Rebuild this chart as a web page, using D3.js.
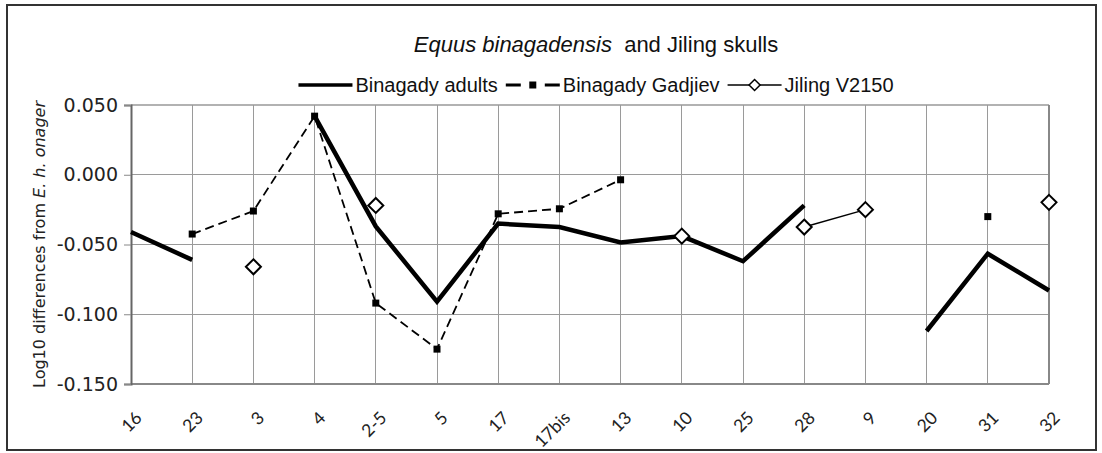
<!DOCTYPE html>
<html>
<head>
<meta charset="utf-8">
<script src="https://cdn.jsdelivr.net/npm/d3@7"></script>
<style>
  body { margin: 0; background: #fff; }
  svg { display: block; }
  .grid line { stroke: #9a9a9a; stroke-width: 1; shape-rendering: crispEdges; }
</style>
</head>
<body>
<svg id="chart" width="1102" height="453"></svg>
<script>
// categories (skull measurement numbers)
const categories = ["16", "23", "3", "4", "2-5", "5", "17", "17bis", "13", "10", "25", "28", "9", "20", "31", "32"];

// series values, null = no value
const adults   = [-0.041, -0.061, null, 0.042, -0.037, -0.091, -0.035, -0.0375, -0.0485, -0.044, -0.062, -0.022, null, -0.112, -0.0566, -0.083];
const gadjiev  = [null, -0.0425, -0.026, 0.042, -0.092, -0.125, -0.028, -0.0244, -0.0036, null, null, null, null, null, -0.030, null];
const jiling   = [null, null, -0.066, null, -0.022, null, null, null, null, -0.044, null, -0.0375, -0.025, null, null, -0.0198];

const yTicks = [0.05, 0, -0.05, -0.1, -0.15];

const margin = { left: 131, right: 53, top: 105, bottom: 69 };
const W = 1102, H = 453;
const width = W - margin.left - margin.right;
const height = H - margin.top - margin.bottom;

const svg = d3.select("#chart");

// outer frame
svg.append("rect")
    .attr("x", 7).attr("y", 5)
    .attr("width", 1089).attr("height", 445)
    .attr("fill", "none")
    .attr("stroke", "#333")
    .attr("stroke-width", 2);

const g = svg.append("g")
    .attr("transform", `translate(${margin.left},${margin.top})`);

const x = d3.scalePoint().domain(categories).range([0, width]).padding(0);
const y = d3.scaleLinear().domain([-0.15, 0.05]).range([height, 0]);

// vertical grid
g.append("g")
    .attr("class", "grid")
    .selectAll("line")
    .data(categories.slice(1, -1))
    .join("line")
    .attr("x1", d => x(d)).attr("x2", d => x(d))
    .attr("y1", 0).attr("y2", height);

// horizontal grid
g.append("g")
    .attr("class", "grid")
    .selectAll("line")
    .data(yTicks.slice(1, -1))
    .join("line")
    .attr("x1", 0).attr("x2", width)
    .attr("y1", d => y(d)).attr("y2", d => y(d));

// plot frame
g.append("line").attr("x1", 0).attr("x2", width).attr("y1", 0).attr("y2", 0)
    .attr("stroke", "#999").attr("stroke-width", 1.5);
g.append("line").attr("x1", width).attr("x2", width).attr("y1", 0).attr("y2", height)
    .attr("stroke", "#888").attr("stroke-width", 2);
g.append("line").attr("x1", 0).attr("x2", width).attr("y1", height).attr("y2", height)
    .attr("stroke", "#888").attr("stroke-width", 2);

// y axis
const yAxis = g.append("g")
    .call(d3.axisLeft(y).tickValues(yTicks).tickSize(7).tickPadding(6)
        .tickFormat(d => d3.format(".3f")(d).replace("−", "-")));
yAxis.select(".domain").attr("stroke", "#666").attr("stroke-width", 2);
yAxis.selectAll(".tick line").attr("stroke", "#888");
yAxis.selectAll("text")
    .attr("font-family", "DejaVu Sans, Verdana, sans-serif")
    .attr("font-size", "19px")
    .attr("fill", "#222");

// x labels, rotated
g.append("g")
    .selectAll("text")
    .data(categories)
    .join("text")
    .attr("transform", d => `translate(${x(d) + 12},${height + 35}) rotate(-45)`)
    .attr("text-anchor", "end")
    .attr("font-family", "Lato, 'Open Sans', sans-serif")
    .attr("font-size", "17.5px")
    .attr("fill", "#222")
    .text(d => d);

// y axis title
const yTitle = svg.append("text")
    .attr("transform", `translate(45,${margin.top + height / 2}) rotate(-90)`)
    .attr("text-anchor", "middle")
    .attr("font-family", "DejaVu Sans, Verdana, sans-serif")
    .attr("font-size", "16px")
    .attr("fill", "#222");
yTitle.append("tspan").text("Log10 differences from ");
yTitle.append("tspan").attr("font-style", "italic").text("E. h. onager");

// series
const line = d3.line()
    .defined(d => d.v != null)
    .x(d => x(d.c))
    .y(d => y(d.v));

const toPts = arr => categories.map((c, i) => ({ c, v: arr[i] }));

g.append("path")
    .datum(toPts(adults))
    .attr("fill", "none")
    .attr("stroke", "#000")
    .attr("stroke-width", 4.5)
    .attr("stroke-linejoin", "miter")
    .attr("d", line);

g.append("path")
    .datum(toPts(gadjiev))
    .attr("fill", "none")
    .attr("stroke", "#000")
    .attr("stroke-width", 1.8)
    .attr("stroke-dasharray", "9,5")
    .attr("d", line);

g.append("g")
    .selectAll("rect")
    .data(toPts(gadjiev).filter(d => d.v != null))
    .join("rect")
    .attr("x", d => x(d.c) - 3.5)
    .attr("y", d => y(d.v) - 3.5)
    .attr("width", 7).attr("height", 7)
    .attr("fill", "#000");

g.append("path")
    .datum(toPts(jiling))
    .attr("fill", "none")
    .attr("stroke", "#000")
    .attr("stroke-width", 1.5)
    .attr("d", line);

const diamond = r => `M0,${-r}L${r},0L0,${r}L${-r},0Z`;

g.append("g")
    .selectAll("path")
    .data(toPts(jiling).filter(d => d.v != null))
    .join("path")
    .attr("transform", d => `translate(${x(d.c)},${y(d.v)})`)
    .attr("d", diamond(7.5))
    .attr("fill", "#fff")
    .attr("stroke", "#000")
    .attr("stroke-width", 2);

// title
const title = svg.append("text")
    .attr("x", 596).attr("y", 52)
    .attr("text-anchor", "middle")
    .attr("font-family", "Liberation Sans, Arial, sans-serif")
    .attr("font-size", "22px")
    .attr("fill", "#111");
title.append("tspan").attr("font-style", "italic").text("Equus binagadensis");
title.append("tspan").text("\u00a0 and Jiling skulls");

// legend
const legend = svg.append("g").attr("font-family", "Liberation Sans, Arial, sans-serif")
    .attr("font-size", "20px").attr("fill", "#111");
const legY = 85;
const items = [
    { name: "Binagady adults", kind: "solid" },
    { name: "Binagady Gadjiev", kind: "dash" },
    { name: "Jiling V2150", kind: "diamond" }
];
const symW = 54, gapAfterSym = 3, gapAfterText = 8;
let cx = 0;
const legendG = legend.append("g");
items.forEach(it => {
    const sg = legendG.append("g").attr("transform", `translate(${cx},0)`);
    if (it.kind === "solid") {
        sg.append("line").attr("x1", 0).attr("x2", symW).attr("y1", 0).attr("y2", 0)
            .attr("stroke", "#000").attr("stroke-width", 3.5);
    } else if (it.kind === "dash") {
        sg.append("line").attr("x1", 0).attr("x2", symW).attr("y1", 0).attr("y2", 0)
            .attr("stroke", "#000").attr("stroke-width", 3).attr("stroke-dasharray", "15,24");
        sg.append("rect").attr("x", symW / 2 - 3.5).attr("y", -3.5).attr("width", 7).attr("height", 7)
            .attr("fill", "#000");
    } else {
        sg.append("line").attr("x1", 0).attr("x2", symW).attr("y1", 0).attr("y2", 0)
            .attr("stroke", "#000").attr("stroke-width", 1.5);
        sg.append("path").attr("transform", `translate(${symW / 2},0)`).attr("d", diamond(5.5))
            .attr("fill", "#fff").attr("stroke", "#000").attr("stroke-width", 1.5);
    }
    const t = sg.append("text").attr("x", symW + gapAfterSym).attr("y", 7).text(it.name);
    cx += symW + gapAfterSym + t.node().getComputedTextLength() + gapAfterText;
});
const legW = cx - gapAfterText;
legendG.attr("transform", `translate(${596 - legW / 2},${legY})`);
</script>
</body>
</html>
